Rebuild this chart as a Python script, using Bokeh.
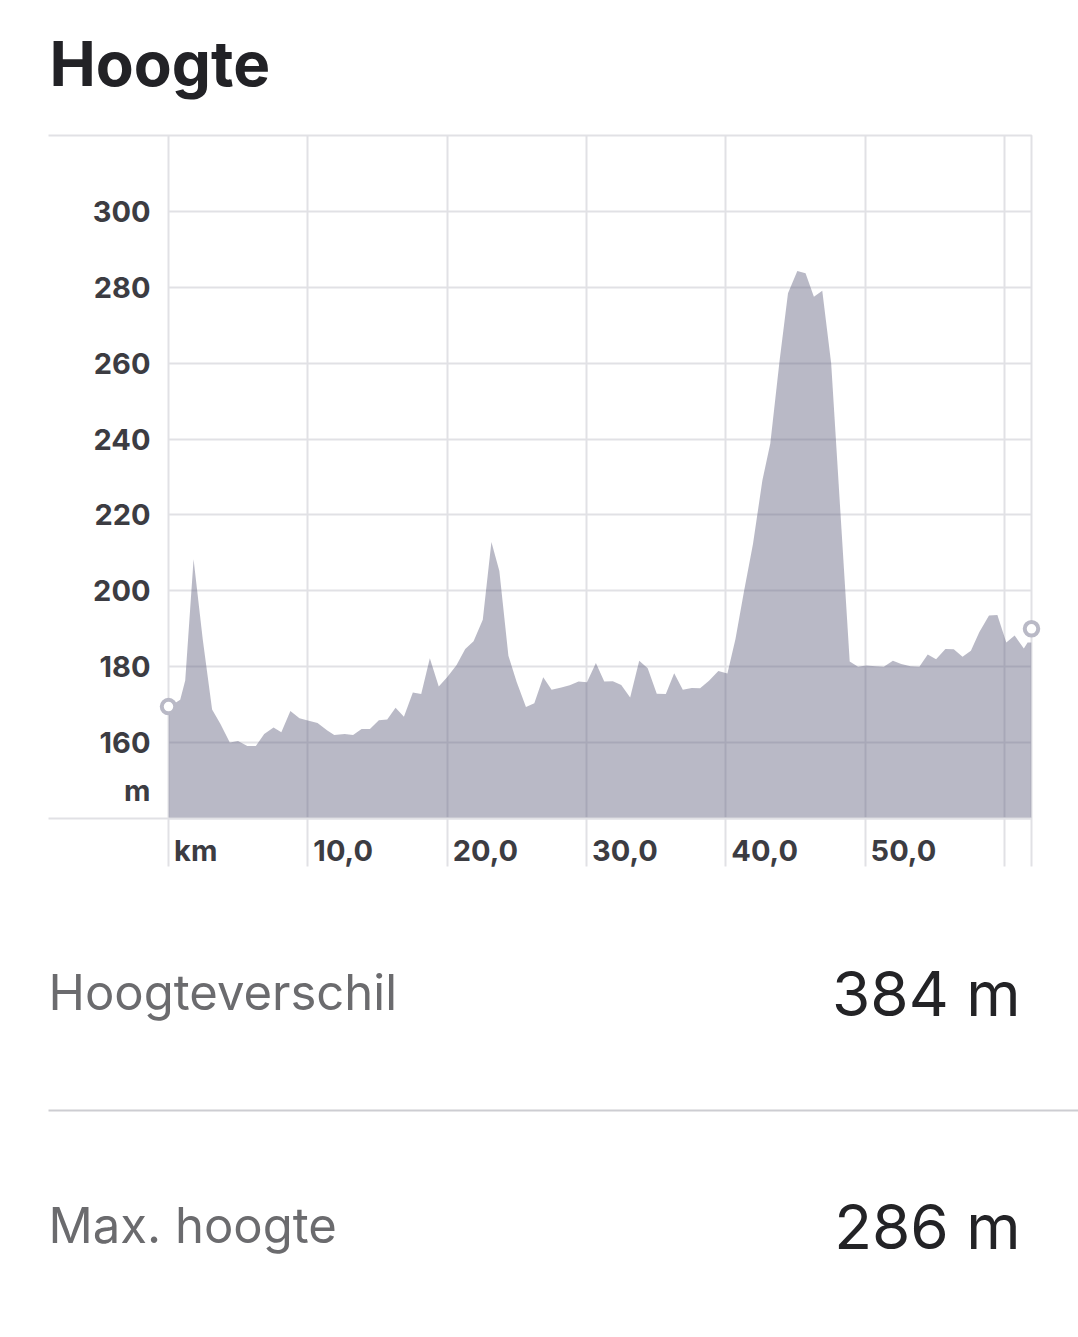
from bokeh.plotting import figure
from bokeh.models import Range1d, FixedTicker
from bokeh.layouts import column
from bokeh.core.properties import value
from bokeh.embed import file_html
from bokeh.resources import INLINE

# ---------------- data ----------------
TITLE = "Hoogte"

KM = [0.0, 0.84, 1.2, 1.8, 2.46, 3.13, 3.73, 4.4, 4.99, 5.66, 6.27, 6.87, 7.54, 8.1,
      8.75, 9.4, 10.0, 10.7, 11.4, 11.9, 12.65, 13.25, 13.86, 14.46, 15.1, 15.7,
      16.3, 16.9, 17.54, 18.14, 18.76, 19.4, 20.0, 20.67, 21.3, 21.9, 22.56, 23.18,
      23.75, 24.4, 25.0, 25.66, 26.26, 26.9, 27.5, 28.2, 28.8, 29.44, 30.04, 30.68,
      31.28, 31.9, 32.5, 33.14, 33.79, 34.4, 35.05, 35.7, 36.3, 36.92, 37.56, 38.16,
      38.8, 39.47, 40.12, 40.7, 41.3, 41.96, 42.63, 43.2, 43.87, 44.47, 45.14, 45.73,
      46.33, 46.93, 47.57, 48.24, 48.9, 49.5, 50.08, 50.75, 51.35, 52.0, 52.6, 53.26,
      53.9, 54.5, 55.1, 55.77, 56.37, 57.0, 57.6, 58.2, 58.9, 59.5, 60.14, 60.74,
      61.4, 61.67, 61.95]

ELEV = [169.3, 171.3, 176.4, 208.3, 187.2, 168.7, 164.9, 160.0, 160.4, 159.1, 159.1,
        162.3, 164.0, 162.7, 168.3, 166.4, 165.8, 165.2, 163.2, 162.0, 162.3, 162.0,
        163.6, 163.6, 165.9, 166.1, 169.2, 166.8, 173.2, 172.8, 182.2, 174.8, 177.2,
        180.4, 184.7, 186.7, 192.4, 212.9, 205.2, 182.9, 175.9, 169.4, 170.4, 177.2,
        173.9, 174.5, 175.1, 176.1, 175.9, 181.0, 176.1, 176.2, 175.2, 171.9, 181.6,
        179.6, 172.9, 172.8, 178.3, 173.9, 174.4, 174.3, 176.3, 178.9, 178.2, 187.3,
        199.6, 212.4, 229.1, 238.8, 260.8, 278.4, 284.3, 283.7, 277.5, 279.1, 259.9,
        220.3, 181.4, 180.0, 180.3, 180.1, 180.0, 181.6, 180.7, 180.1, 180.0, 183.2,
        182.0, 184.7, 184.6, 182.6, 184.2, 189.1, 193.5, 193.6, 186.4, 188.2, 184.8,
        186.4, 186.4]

MARKER_KM = [0.0, 61.95]
MARKER_ELEV = [169.5, 190.0]

Y_MIN, Y_MAX = 140, 320
X_MIN, X_MAX = 0.0, 61.95
Y_TICKS = [160, 180, 200, 220, 240, 260, 280, 300]
Y_UNIT_TICK = 147.5
Y_UNIT = "m"
Y_GRID = [140, 160, 180, 200, 220, 240, 260, 280, 300, 320]
X_TICKS = [0, 10, 20, 30, 40, 50]
X_LABELS = ["km", "10,0", "20,0", "30,0", "40,0", "50,0"]
X_GRID = [0, 10, 20, 30, 40, 50, 60, 61.95]

STAT_LABELS = ["Hoogteverschil", "Max. hoogte"]
STAT_VALUES = ["384 m", "286 m"]

# ---------------- styles / layout ----------------
FONT_NAME = "Inter"
FONT = value(FONT_NAME)
GRID = "#e1e1e5"
AREA = "#636380"
LABEL = "#3c3c42"
TICK_FS = "29px"
X_LABEL_PAD = 0.4               # small gap (km) between a grid line and its label
W = 1078
LEFT, RIGHT = 168, 47           # frame borders shared by all three figures
FX0, FX1 = LEFT, W - RIGHT      # frame x extent in page pixels


def text_fig(height):
    f = figure(width=W, height=height, x_range=Range1d(FX0, FX1), y_range=Range1d(0, height),
               output_backend="svg", toolbar_location=None,
               min_border_left=LEFT, min_border_right=RIGHT, min_border_top=0, min_border_bottom=0,
               x_axis_location=None, y_axis_location=None)
    f.grid.visible = False
    f.outline_line_color = None
    return f


# ---------------- title ----------------
TH = 128
t = text_fig(TH)
t.text(x=[49], y=[65.5], text=[TITLE], text_font=FONT, text_font_style="bold",
       text_font_size="62px", text_color="#222226", text_baseline="alphabetic",
       level="overlay")

# ---------------- chart ----------------
p = figure(width=W, height=760, x_range=Range1d(X_MIN, X_MAX), y_range=Range1d(Y_MIN, Y_MAX),
           output_backend="svg", toolbar_location=None,
           min_border_left=LEFT, min_border_right=RIGHT, min_border_top=7, min_border_bottom=63)
p.outline_line_color = GRID
p.outline_line_width = 2

p.xgrid.ticker = FixedTicker(ticks=X_GRID)
p.ygrid.ticker = FixedTicker(ticks=Y_GRID)
p.grid.grid_line_color = GRID
p.grid.grid_line_width = 2

p.varea(x=KM, y1=Y_MIN, y2=ELEV, fill_color=AREA, fill_alpha=0.45)
p.scatter(MARKER_KM, MARKER_ELEV, marker="circle", size=13.5, fill_color="white",
          line_color="#b9b9c6", line_width=4, level="overlay")

yax = p.yaxis[0]
yax.ticker = FixedTicker(ticks=[Y_UNIT_TICK] + Y_TICKS, minor_ticks=[Y_MIN, Y_MAX])
overrides = {Y_UNIT_TICK: Y_UNIT}
overrides.update({v: str(v) for v in Y_TICKS})
yax.major_label_overrides = overrides
yax.axis_line_color = None
yax.major_tick_line_color = None
yax.major_tick_out = 0
yax.major_tick_in = 0
yax.minor_tick_in = 0
yax.minor_tick_out = 120
yax.minor_tick_line_color = GRID
yax.minor_tick_line_width = 2
yax.major_label_standoff = 18 - 120
yax.major_label_text_font = FONT_NAME
yax.major_label_text_font_style = "bold"
yax.major_label_text_font_size = TICK_FS
yax.major_label_text_color = LABEL

x_label_pos = [v + X_LABEL_PAD for v in X_TICKS]
xax = p.xaxis[0]
xax.ticker = FixedTicker(ticks=x_label_pos, minor_ticks=X_GRID)
xax.major_label_overrides = dict(zip(x_label_pos, X_LABELS))
xax.axis_line_color = GRID
xax.axis_line_width = 2
xax.major_tick_line_color = None
xax.major_tick_out = 0
xax.major_tick_in = 0
xax.minor_tick_in = 0
xax.minor_tick_out = 48
xax.minor_tick_line_color = GRID
xax.minor_tick_line_width = 2
xax.major_label_orientation = -0.0001   # numeric angle -> labels anchored on their left edge
xax.major_label_standoff = 32 - 48
xax.major_label_text_font = FONT_NAME
xax.major_label_text_font_style = "bold"
xax.major_label_text_font_size = TICK_FS
xax.major_label_text_color = LABEL

# ---------------- stats ----------------
SH = 448
s = text_fig(SH)
s.text(x=[48, 48], y=[344, 111], text=STAT_LABELS, text_font=FONT,
       text_font_size="49px", text_color="#6b6b6e", text_baseline="alphabetic",
       level="overlay")
s.text(x=[1020, 1020], y=[343, 110], text=STAT_VALUES, text_font=FONT,
       text_font_size="62px", text_color="#232326", text_baseline="alphabetic",
       text_align="right", level="overlay")
s.segment(x0=[48], y0=[226], x1=[W], y1=[226], line_color="#cdcdd2", line_width=2,
          level="overlay")

layout = column(t, p, s)
open("out.html", "w").write(file_html(layout, INLINE))
